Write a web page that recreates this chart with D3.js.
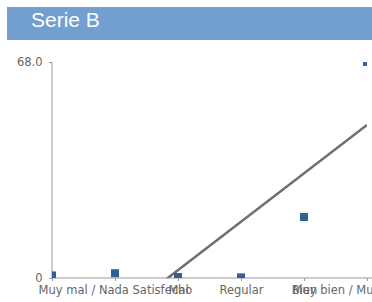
<!DOCTYPE html>
<html>
<head>
<meta charset="utf-8">
<script src="https://cdn.jsdelivr.net/npm/d3@7"></script>
<style>
  body { margin: 0; background: #fff; }
  svg { display: block; }
</style>
</head>
<body>
<div id="chart"></div>
<script>
// data
var categories = ["", "Muy mal / Nada Satisfecho", "Mal", "Regular", "Bien", "Muy bien / Muy satisfecho"];
var values = [0.8, 1.5, 0.3, 0.2, 19.2, 68];
var yTicks = [0, 68];
// trend line end points: [category index, value]
var trendPoints = [[0, -28], [5, 48.2]];

var svgWidth = 372, svgHeight = 302;
var margin = { top: 62, right: 5, bottom: 24, left: 52 };
var width = svgWidth - margin.left - margin.right;
var height = svgHeight - margin.top - margin.bottom;

var svg = d3.select("#chart")
  .append("svg")
  .attr("width", svgWidth)
  .attr("height", svgHeight);

// title bar
svg.append("rect")
  .attr("x", 7)
  .attr("y", 7)
  .attr("width", svgWidth - 7)
  .attr("height", 33)
  .attr("fill", "#729fcf");

svg.append("text")
  .attr("x", 31)
  .attr("y", 27)
  .attr("fill", "#fff")
  .style("font-family", "'Liberation Sans', Arial, sans-serif")
  .style("font-size", "21px")
  .text("Serie B");

var chartGroup = svg.append("g")
  .attr("transform", `translate(${margin.left}, ${margin.top})`);

var xScale = d3.scalePoint()
  .domain(d3.range(categories.length))
  .range([0, width]);

var yScale = d3.scaleLinear()
  .domain([0, 68])
  .range([height, 0]);

chartGroup.append("clipPath")
  .attr("id", "plotClip")
  .append("rect")
  .attr("width", width)
  .attr("height", height);

// axes
var xAxis = d3.axisBottom(xScale)
  .tickSize(3)
  .tickFormat(i => categories[i]);
var yAxis = d3.axisLeft(yScale)
  .tickValues(yTicks)
  .tickSize(3)
  .tickFormat(d => d === 0 ? "0" : d3.format(".1f")(d));

var gx = chartGroup.append("g")
  .attr("transform", `translate(0, ${height})`)
  .call(xAxis);
gx.select(".domain").attr("d", `M0,0H${width + 10}`);

var gy = chartGroup.append("g")
  .call(yAxis);
gy.select(".domain").attr("d", `M0,0V${height}`);

chartGroup.selectAll(".domain, .tick line")
  .attr("stroke", "#999");
chartGroup.selectAll(".tick text")
  .attr("fill", "#666")
  .style("font-family", "'DejaVu Sans', sans-serif")
  .style("font-size", "11.5px");
gy.selectAll(".tick text").attr("dx", "-0.3em");
gx.selectAll(".tick text").attr("dy", "0.85em");

var plot = chartGroup.append("g")
  .attr("clip-path", "url(#plotClip)");

// trend line
var line = d3.line()
  .x(d => xScale(0) + d[0] * xScale.step())
  .y(d => yScale(d[1]));

plot.append("path")
  .datum(trendPoints)
  .attr("d", line)
  .attr("fill", "none")
  .attr("stroke", "#6e6e6e")
  .attr("stroke-width", 2.5);

// points
var size = 8;
plot.selectAll("rect.pt")
  .data(values)
  .enter()
  .append("rect")
  .attr("class", "pt")
  .attr("x", (d, i) => xScale(i) - size / 2)
  .attr("y", d => yScale(d) - size / 2)
  .attr("width", size)
  .attr("height", size)
  .attr("fill", "#2f6098");
</script>
</body>
</html>
